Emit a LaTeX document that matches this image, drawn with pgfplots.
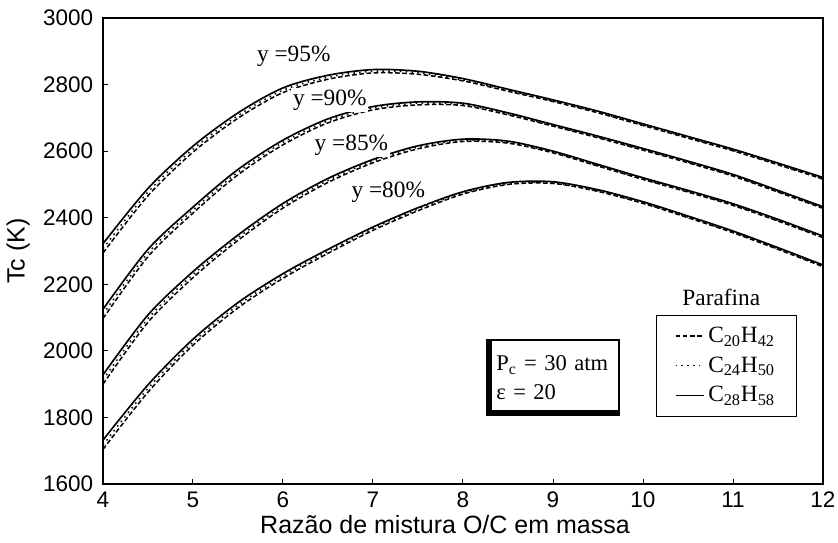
\documentclass[border=0pt]{standalone}
\usepackage{fontspec}
\setmainfont{Liberation Sans}
\newfontfamily\timesf{Liberation Serif}
\usepackage{pgfplots}
\pgfplotsset{compat=1.18}

\tikzset{
  c20/.style={black, line width=0.9pt, dash pattern=on 2.8pt off 1.5pt},
  c24/.style={black, line width=0.9pt, dash pattern=on 0.9pt off 2.6pt},
  c28/.style={black, line width=1pt},
  lbl/.style={fill=white, inner sep=1pt, font=\timesf\fontsize{14}{16}\selectfont},
}

\begin{document}
\begin{tikzpicture}
\begin{axis}[
  width=432pt, height=279.6pt, scale only axis,
  xmin=4, xmax=12, ymin=1600, ymax=3000,
  xtick={4,...,12}, ytick={1600,1800,...,3000},
  tick pos=left, tick align=inside, major tick length=3pt,
  axis line style={line width=0.8pt},
  tick style={black, line width=0.6pt},
  /pgf/number format/assume math mode=true,
  /pgf/number format/1000 sep={},
  ticklabel style={font=\fontsize{13.5}{15}\selectfont},
  xticklabel style={yshift=-1pt},
  yticklabel style={xshift=-2.4pt},
  xlabel={Razão de mistura O/C em massa},
  ylabel={Tc (K)},
  xlabel style={font=\fontsize{15}{17}\selectfont, at={(axis description cs:0.475,-0.088)}, anchor=center},
  ylabel style={font=\fontsize{15}{17}\selectfont, at={(axis description cs:-0.118,0.5)}, anchor=center},
  legend style={at={(axis description cs:0.768,0.3627)}, anchor=north west,
    draw=black, line width=0.6pt, inner xsep=11pt, inner ysep=5pt,
    font=\timesf\fontsize{14}{16}\selectfont, row sep=3pt},
  legend cell align=left,
]
% legend images
\addlegendimage{c20}
\addlegendentry{C\textsubscript{20}H\textsubscript{42}}
\addlegendimage{c24}
\addlegendentry{C\textsubscript{24}H\textsubscript{50}}
\addlegendimage{c28}
\addlegendentry{C\textsubscript{28}H\textsubscript{58}}

% y = 95%
\addplot[c20, smooth, forget plot] coordinates {(4,2294) (4.5,2466) (5,2597) (5.5,2699) (6,2776) (6.5,2816) (7,2835) (7.5,2831) (8,2811) (8.5,2780) (9,2749) (9.5,2715) (10,2677) (10.5,2639) (11,2601) (11.5,2559) (12,2516)};
\addplot[c24, smooth, forget plot] coordinates {(4,2307) (4.5,2477) (5,2606) (5.5,2707) (6,2783) (6.5,2822) (7,2840) (7.5,2836) (8,2814) (8.5,2783) (9,2751) (9.5,2717) (10,2679) (10.5,2641) (11,2603) (11.5,2561) (12,2518)};
\addplot[c28, smooth, forget plot] coordinates {(4,2322) (4.5,2488) (5,2615) (5.5,2715) (6,2790) (6.5,2828) (7,2845) (7.5,2840) (8,2818) (8.5,2786) (9,2754) (9.5,2720) (10,2682) (10.5,2644) (11,2606) (11.5,2564) (12,2521)};

% y = 90%
\addplot[c20, smooth, forget plot] coordinates {(4,2097) (4.5,2283) (5,2414) (5.5,2529) (6,2619) (6.5,2685) (7,2724) (7.5,2739) (8,2737) (8.5,2709) (9,2675) (9.5,2640) (10,2603) (10.5,2565) (11,2525) (11.5,2477) (12,2428)};
\addplot[c24, smooth, forget plot] coordinates {(4,2110) (4.5,2294) (5,2423) (5.5,2537) (6,2626) (6.5,2691) (7,2729) (7.5,2744) (8,2740) (8.5,2712) (9,2677) (9.5,2642) (10,2605) (10.5,2567) (11,2527) (11.5,2479) (12,2430)};
\addplot[c28, smooth, forget plot] coordinates {(4,2125) (4.5,2305) (5,2432) (5.5,2545) (6,2633) (6.5,2697) (7,2734) (7.5,2748) (8,2744) (8.5,2715) (9,2680) (9.5,2645) (10,2608) (10.5,2570) (11,2530) (11.5,2482) (12,2433)};

% y = 85%
\addplot[c20, smooth, forget plot] coordinates {(4,1900) (4.5,2086) (5,2220) (5.5,2332) (6,2429) (6.5,2506) (7,2565) (7.5,2607) (8,2629) (8.5,2624) (9,2595) (9.5,2555) (10,2515) (10.5,2477) (11,2437) (11.5,2390) (12,2340)};
\addplot[c24, smooth, forget plot] coordinates {(4,1913) (4.5,2097) (5,2229) (5.5,2340) (6,2436) (6.5,2512) (7,2570) (7.5,2612) (8,2632) (8.5,2627) (9,2597) (9.5,2557) (10,2517) (10.5,2479) (11,2439) (11.5,2392) (12,2342)};
\addplot[c28, smooth, forget plot] coordinates {(4,1928) (4.5,2108) (5,2238) (5.5,2348) (6,2443) (6.5,2518) (7,2575) (7.5,2616) (8,2636) (8.5,2630) (9,2600) (9.5,2560) (10,2520) (10.5,2482) (11,2442) (11.5,2395) (12,2345)};

% y = 80%
\addplot[c20, smooth, forget plot] coordinates {(4,1704) (4.5,1876) (5,2017) (5.5,2129) (6,2218) (6.5,2293) (7,2362) (7.5,2421) (8,2471) (8.5,2500) (9,2503) (9.5,2479) (10,2443) (10.5,2400) (11,2355) (11.5,2305) (12,2253)};
\addplot[c24, smooth, forget plot] coordinates {(4,1717) (4.5,1887) (5,2026) (5.5,2137) (6,2225) (6.5,2299) (7,2367) (7.5,2426) (8,2474) (8.5,2503) (9,2505) (9.5,2481) (10,2445) (10.5,2402) (11,2357) (11.5,2307) (12,2255)};
\addplot[c28, smooth, forget plot] coordinates {(4,1732) (4.5,1898) (5,2035) (5.5,2145) (6,2232) (6.5,2305) (7,2372) (7.5,2430) (8,2478) (8.5,2506) (9,2508) (9.5,2484) (10,2448) (10.5,2405) (11,2360) (11.5,2310) (12,2258)};

% curve labels
\node[lbl] at (axis cs:6.12,2886) {y =95\%};
\node[lbl] at (axis cs:6.52,2754) {y =90\%};
\node[lbl] at (axis cs:6.76,2618) {y =85\%};
\node[lbl] at (axis cs:7.17,2477) {y =80\%};

% legend title
\node[font=\timesf\fontsize{14}{16}\selectfont] at (axis cs:10.87,2162) {Parafina};

% conditions box
\node[draw=black, line width=1pt, minimum width=79pt, minimum height=45pt,
      text width=68pt, align=left, inner xsep=5.5pt, inner ysep=3pt,
      font=\timesf\fontsize{13.5}{17}\selectfont] (cond) at (axis cs:9.0,1920)
  {\mbox{P\textsubscript{c} = 30 atm}\\\mbox{ε = 20}};
\draw[line width=3.5pt] ([xshift=1.75pt]cond.north west) -- ([shift={(1.75pt,1.5pt)}]cond.south west) -- ([yshift=1.5pt]cond.south east);
\end{axis}
\pgfresetboundingbox
\path[use as bounding box] (-61.8pt,-34.8pt) rectangle (441pt,290.4pt);
\end{tikzpicture}
\end{document}
